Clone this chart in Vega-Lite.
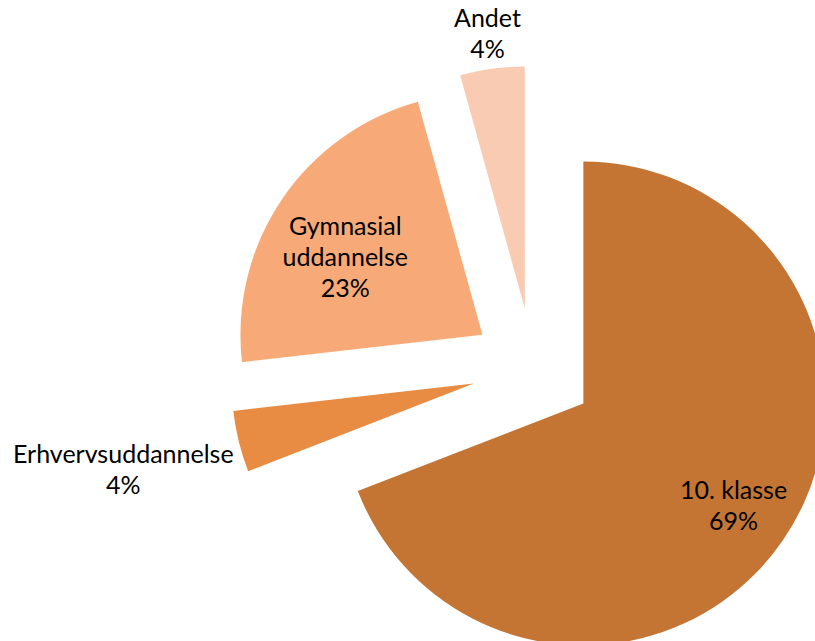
{
  "$schema": "https://vega.github.io/schema/vega-lite/v6.json",
  "width": 815,
  "height": 641,
  "padding": 0,
  "autosize": "none",
  "background": "#ffffff",
  "config": {"view": {"stroke": null}},
  "data": {
    "values": [
      {"category": "10. klasse", "pct": 69.1, "order": 1, "label": ["10. klasse", "69%"]},
      {"category": "Erhvervsuddannelse", "pct": 4.1, "order": 2, "label": ["Erhvervsuddannelse", "4%"]},
      {"category": "Gymnasial uddannelse", "pct": 22.5, "order": 3, "label": ["Gymnasial", "uddannelse", "23%"]},
      {"category": "Andet", "pct": 4.3, "order": 4, "label": ["Andet", "4%"]}
    ]
  },
  "transform": [
    {"window": [{"op": "sum", "field": "pct", "as": "cum"}], "sort": [{"field": "order"}], "frame": [null, 0]},
    {"calculate": "datum.cum - datum.pct", "as": "start"},
    {"calculate": "datum.cum - datum.pct / 2", "as": "mid"},
    {"calculate": "sin(2 * PI * datum.mid / 100)", "as": "ex"},
    {"calculate": "cos(2 * PI * datum.mid / 100)", "as": "ey"}
  ],
  "encoding": {
    "x": {"field": "ex", "type": "quantitative", "axis": null, "scale": {"domain": [-8.7377, 4.623], "nice": false, "zero": false}},
    "y": {"field": "ey", "type": "quantitative", "axis": null, "scale": {"domain": [-4.459, 6.049], "nice": false, "zero": false}}
  },
  "layer": [
    {
      "mark": {"type": "arc", "radius": 242},
      "encoding": {
        "theta": {"field": "start", "type": "quantitative", "scale": {"domain": [0, 100]}},
        "theta2": {"field": "cum"},
        "color": {
          "field": "category",
          "type": "nominal",
          "legend": null,
          "scale": {
            "domain": ["10. klasse", "Erhvervsuddannelse", "Gymnasial uddannelse", "Andet"],
            "range": ["#C47533", "#E88C44", "#F7AA78", "#F9CBB3"]
          }
        }
      }
    },
    {
      "transform": [{"filter": "datum.category === '10. klasse'"}],
      "mark": {"type": "text", "radius": 182, "dy": -15.5, "font": "Lato", "fontSize": 25, "color": "#000000", "lineHeight": 31, "baseline": "middle", "align": "center"},
      "encoding": {"theta": {"field": "mid", "type": "quantitative"}, "text": {"field": "label"}}
    },
    {
      "transform": [{"filter": "datum.category === 'Gymnasial uddannelse'"}],
      "mark": {"type": "text", "radius": 157, "dx": -7, "dy": -20, "font": "Lato", "fontSize": 25, "color": "#000000", "lineHeight": 31, "baseline": "middle", "align": "center"},
      "encoding": {"theta": {"field": "mid", "type": "quantitative"}, "text": {"field": "label"}}
    },
    {
      "transform": [{"filter": "datum.category === 'Andet'"}],
      "mark": {"type": "text", "radius": 277, "dy": -15.5, "font": "Lato", "fontSize": 25, "color": "#000000", "lineHeight": 31, "baseline": "middle", "align": "center"},
      "encoding": {"theta": {"field": "mid", "type": "quantitative"}, "text": {"field": "label"}}
    },
    {
      "transform": [{"filter": "datum.category === 'Erhvervsuddannelse'"}],
      "mark": {"type": "text", "radius": 361, "dy": -15.5, "font": "Lato", "fontSize": 25, "color": "#000000", "lineHeight": 31, "baseline": "middle", "align": "center"},
      "encoding": {"theta": {"field": "mid", "type": "quantitative"}, "text": {"field": "label"}}
    }
  ]
}
